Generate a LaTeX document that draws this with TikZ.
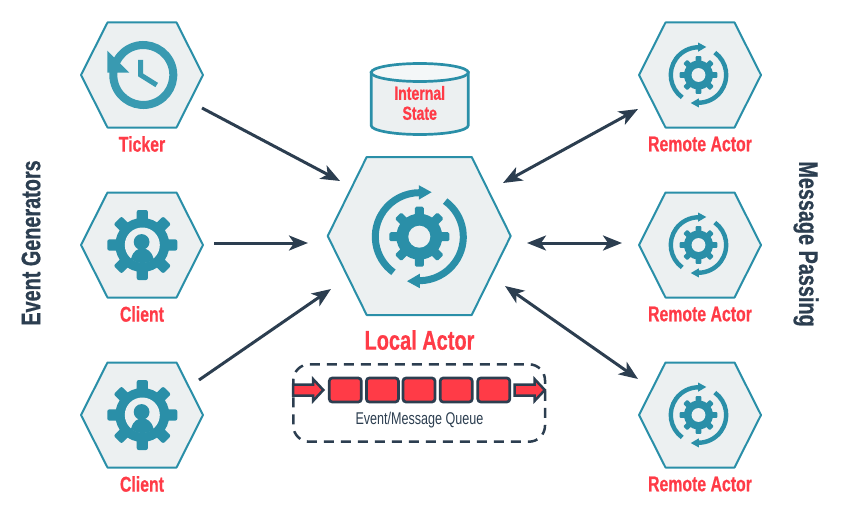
\documentclass[tikz,border=0pt]{standalone}
\usepackage{fontspec}
\setmainfont[FakeStretch=0.74,BoldFeatures={FakeBold=0.6}]{Liberation Sans}
\usetikzlibrary{arrows.meta}
\definecolor{teal1}{HTML}{2A8FA8}
\definecolor{teal2}{HTML}{399AB1}
\definecolor{hexfill}{HTML}{ECF0F1}
\definecolor{topfill}{HTML}{F4F7F8}
\definecolor{navy}{HTML}{2C3E50}
\definecolor{redt}{HTML}{FF3B47}
\tikzset{
  hexline/.style={draw=teal1,fill=hexfill,line width=2pt,line join=round},
  hexanchor/.style={inner sep=0pt,outer sep=0pt},
  conn/.style={draw=navy,line width=3pt,-{Stealth[length=19pt,width=15pt,inset=5pt]}},
  connb/.style={draw=navy,line width=3pt,{Stealth[length=19pt,width=15pt,inset=5pt]}-{Stealth[length=19pt,width=15pt,inset=5pt]}},
  lab/.style={text=redt,font=\bfseries\fontsize{21.4}{24}\selectfont,inner sep=0pt},
  side/.style={text=navy,font=\bfseries\fontsize{26.8}{30}\selectfont,inner sep=0pt},
  qbox/.style={draw=navy,fill=redt,line width=2.7pt,rounded corners=3pt,minimum width=32pt,minimum height=24pt,inner sep=0pt},
  qarrow/.style={draw=navy,fill=redt,line width=2.5pt,line join=miter},
}
% name, x, y, half width, half top edge, half height
\newcommand\hexnode[6]{%
  \node[hexanchor,minimum width=#4*2pt,minimum height=#6*2pt] (#1) at (#2,#3) {};
  \draw[hexline] (#2-#4,#3) -- (#2-#5,#3-#6) -- (#2+#5,#3-#6) -- (#2+#4,#3) -- (#2+#5,#3+#6) -- (#2-#5,#3+#6) -- cycle;
}
% x, y, scale
\newcommand\syncicon[3]{%
  \begin{scope}[shift={(#1,#2)},yscale=-1,scale=#3]
    \foreach \a in {0,45,...,315}{
      \fill[teal1,rotate=\a,rounded corners=1.5pt*#3] (20,-4.5) rectangle (30,4.5);
    }
    \fill[teal1] (0,0) circle (23);
    \fill[hexfill] (0,0) circle (11);
    \foreach \a in {0,180}{
      \begin{scope}[rotate=\a]
        \draw[teal1,line width=7pt*#3] (234:44) arc (234:90:44);
        \fill[teal1] (-0.5,51.5) -- (12.3,44.5) -- (-0.5,37) -- cycle;
      \end{scope}
    }
  \end{scope}
}
% x, y
\newcommand\clienticon[2]{%
  \begin{scope}[shift={(#1,#2)},yscale=-1]
    \foreach \a in {0,45,...,315}{
      \fill[teal1,rotate=\a,rounded corners=2pt] (24,-5.6) rectangle (35,5.6);
    }
    \fill[teal1] (0,0) circle (27);
    \fill[hexfill] (0,0) circle (17.5);
    \begin{scope}
      \clip (0,0) circle (18);
      \fill[teal1] (-14,-19) -- (-11,-13) .. controls (-9,-6) and (-5,-3.5) .. (0,-3.5) .. controls (5,-3.5) and (9,-6) .. (11,-13) -- (14,-19) -- cycle;
    \end{scope}
    \fill[teal1] (-0.7,3) circle (7.9);
  \end{scope}
}
\begin{document}
\begin{tikzpicture}[x=1pt,y=-1pt]
\path[use as bounding box] (0,0) rectangle (845,524);

% hexagons
\hexnode{ticker}{142}{75}{61}{34.5}{52.5}
\hexnode{clienta}{142}{245}{61}{34.5}{52.5}
\hexnode{clientb}{142}{415}{61}{34.5}{52.5}
\hexnode{local}{419.2}{236}{91.5}{52.5}{79}
\hexnode{remotea}{700}{75}{61}{34.5}{52.5}
\hexnode{remoteb}{700}{245}{61}{34.5}{52.5}
\hexnode{remotec}{700}{415}{61}{34.5}{52.5}

% ticker icon
\begin{scope}[shift={(143.3,75)},yscale=-1]
  \draw[teal2,line width=8pt] (198:30) arc (198:-222:30);
  \fill[teal2] (-36,24.3) -- (-36,2.3) -- (-14,2.3) -- cycle;
  \draw[teal2,line width=5pt,line join=miter] (-2.6,15) -- (-2.6,0) -- (13.4,-10);
\end{scope}

\clienticon{142.3}{245}
\clienticon{142.3}{415}
\syncicon{419.3}{236.7}{1}
\syncicon{698.5}{75}{0.63}
\syncicon{698.5}{245}{0.63}
\syncicon{698.5}{415}{0.63}

% labels
\node[lab] (lticker) at (142,144) {Ticker};
\node[lab] (lclienta) at (142,314) {Client};
\node[lab] (lclientb) at (142,484) {Client};
\node[lab] (lremotea) at (700,144) {Remote Actor};
\node[lab] (lremoteb) at (700,314) {Remote Actor};
\node[lab] (lremotec) at (700,484) {Remote Actor};
\node[lab,font=\bfseries\fontsize{27}{30}\selectfont] (llocal) at (419.5,340) {Local Actor};
\node[side,rotate=90] (levent) at (31,243) {Event Generators};
\node[side,rotate=-90] (lmsg) at (806,244) {Message Passing};

% internal state
\node[hexanchor,minimum width=97pt,minimum height=71pt] (state) at (419.7,99) {};
\draw[draw=teal1,fill=hexfill,line width=2.7pt] (371.2,72.5) -- (371.2,125.5) arc (180:0:48.5 and 9) -- (468.2,72.5) -- cycle;
\draw[draw=teal1,fill=topfill,line width=2.7pt] (419.7,72.5) ellipse (48.5 and 9);
\node[lab,font=\bfseries\fontsize{19}{20}\selectfont,align=center] (lstate) at (419.7,103) {Internal\\State};

% queue
\draw[navy,line width=2.5pt,dash pattern=on 10pt off 7pt,rounded corners=16pt] (293.3,364.3) rectangle (545,441.7);
\draw[qarrow] (293,384.5) -- (313,384.5) -- (313,379) -- (323.3,390) -- (313,401) -- (313,395.5) -- (293,395.5) -- cycle;
\node[qbox] (qa) at (345.3,390) {};
\node[qbox] (qb) at (382.4,390) {};
\node[qbox] (qc) at (419,390) {};
\node[qbox] (qd) at (456.2,390) {};
\node[qbox] (qe) at (493.8,390) {};
\draw[qarrow] (514.5,384.5) -- (534.5,384.5) -- (534.5,379) -- (544.8,390) -- (534.5,401) -- (534.5,395.5) -- (514.5,395.5) -- cycle;
\node[text=navy,font=\fontsize{17}{18}\selectfont,inner sep=0pt] (lqueue) at (419.5,420) {Event/Message Queue};

% connectors
\coordinate (s1) at (202,108); \coordinate (e1) at (340,181);
\coordinate (s2) at (214,243); \coordinate (e2) at (308,243);
\coordinate (s3) at (199,380); \coordinate (e3) at (331,289);
\coordinate (s4) at (503,183); \coordinate (e4) at (638,109);
\coordinate (s5) at (527,243); \coordinate (e5) at (622,243);
\coordinate (s6) at (505,286); \coordinate (e6) at (638,379);
\draw[conn] (s1) -- (e1);
\draw[conn] (s2) -- (e2);
\draw[conn] (s3) -- (e3);
\draw[connb] (s4) -- (e4);
\draw[connb] (s5) -- (e5);
\draw[connb] (s6) -- (e6);
\end{tikzpicture}
\end{document}
